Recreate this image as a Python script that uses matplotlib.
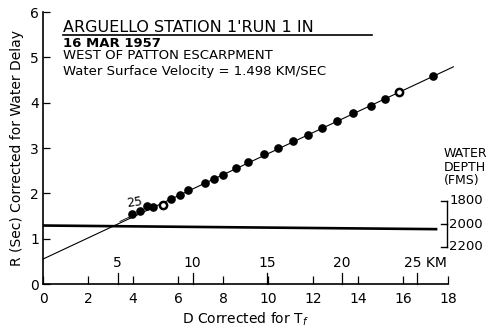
import matplotlib
matplotlib.use("Agg")
import matplotlib.pyplot as plt
import numpy as np

# Reduced travel-time data (D corrected for Tf vs. R corrected for water delay)
d_values = [3.94, 4.31, 4.61, 4.90, 5.32, 5.68, 6.09, 6.46, 7.20, 7.60, 7.99,
            8.56, 9.12, 9.84, 10.46, 11.10, 11.78, 12.41, 13.08, 13.76,
            14.56, 15.20, 15.82, 17.33]
r_values = [1.54, 1.62, 1.71, 1.69, 1.74, 1.88, 1.97, 2.07, 2.23, 2.32, 2.40,
            2.55, 2.70, 2.86, 3.00, 3.15, 3.29, 3.45, 3.59, 3.77,
            3.93, 4.08, 4.23, 4.58]
open_points = [4, 22]          # indices drawn as open circles

# Fitted line (intercept, slope) and its extent
fit_intercept = 0.55
fit_slope = 0.2325
fit_x = [0.0, 18.24]

# Water-depth level line
depth_line_x = [0.0, 17.47]
depth_line_y = [1.29, 1.21]

# Axis ticks
x_ticks = [0, 2, 4, 6, 8, 10, 12, 14, 16, 18]
y_ticks = [0, 1, 2, 3, 4, 5, 6]
km_ticks = [5, 10, 15, 20, 25]
km_per_unit = 1.505

# Water depth scale (fathoms)
depth_labels = ["1800", "2000", "2200"]
depth_levels = [1.84, 1.32, 0.82]

W, H = 491, 327
fig = plt.figure(figsize=(W / 100, H / 100), dpi=100)
ax = fig.add_axes([43 / W, 1 - 284 / H, 405 / W, 272 / H])
ax.set_xlim(0, 18)
ax.set_ylim(0, 6)

for s in ("top", "right"):
    ax.spines[s].set_visible(False)
for s in ("left", "bottom"):
    ax.spines[s].set_linewidth(1.2)

ax.set_xticks(x_ticks)
ax.set_yticks(y_ticks)
ax.tick_params(axis="x", direction="in", length=5.5, width=0.9, pad=6,
               labelsize=10)
ax.tick_params(axis="y", direction="in", length=5, width=0.9, pad=3,
               labelsize=10)

# fitted line
fx = np.array(fit_x)
ax.plot(fx, fit_intercept + fit_slope * fx, color="black", lw=0.8,
        clip_on=False, zorder=2)
# short parallel stroke near the "25" mark
sx = np.array([3.42, 3.94])
ax.plot(sx, fit_intercept + fit_slope * sx + 0.035, color="black", lw=0.6)
ax.text(4.05, 1.80, "25", fontsize=9, ha="center", va="center", rotation=8)

# data points
d = np.array(d_values)
r = np.array(r_values)
filled = [i for i in range(len(d)) if i not in open_points]
ax.plot(d[filled], r[filled], "o", ms=5.2, color="black", zorder=3)
ax.plot(d[open_points], r[open_points], "o", ms=5.2, mfc="white",
        mec="black", mew=1.8, zorder=3)

# water depth line
ax.plot(depth_line_x, depth_line_y, color="black", lw=1.9, zorder=2)

# kilometre scale along the bottom
for km in km_ticks:
    xp = km / km_per_unit
    ax.plot([xp, xp], [0, 0.25], color="black", lw=0.9, clip_on=False)
    if km == km_ticks[-1]:
        ax.text(xp - 0.55, 0.30, f"{km} KM", fontsize=10, ha="left",
                va="bottom")
    else:
        ax.text(xp, 0.30, f"{km}", fontsize=10, ha="center", va="bottom")

# water depth bracket
bx = 17.95
ax.plot([bx, bx], [depth_levels[-1], depth_levels[0]], color="black", lw=1.0,
        clip_on=False)
for lab, lv in zip(depth_labels, depth_levels):
    ax.plot([bx - 0.28, bx], [lv, lv], color="black", lw=1.0, clip_on=False)
    ax.text(bx + 0.1, lv, lab, fontsize=9.5, ha="left", va="center",
            clip_on=False)
ax.text(17.8, 2.58, "WATER\nDEPTH\n(FMS)", fontsize=9, ha="left",
        va="center", linespacing=1.05, clip_on=False)

# axis labels
ax.set_ylabel("R (Sec) Corrected for Water Delay", fontsize=10, labelpad=4)
ax.set_xlabel(r"D Corrected for T$_f$", fontsize=10, labelpad=3)

# header block
ax.text(0.89, 5.55, "ARGUELLO STATION 1'RUN 1 IN", fontsize=11.5,
        ha="left", va="baseline")
ax.plot([0.89, 14.62], [5.50, 5.50], color="black", lw=1.2)
ax.text(0.89, 5.23, "16 MAR 1957", fontsize=9.5, fontweight="bold",
        ha="left", va="baseline")
ax.text(0.89, 4.96, "WEST OF PATTON ESCARPMENT", fontsize=9.5,
        ha="left", va="baseline")
ax.text(0.89, 4.60, "Water Surface Velocity = 1.498 KM/SEC", fontsize=9.5,
        ha="left", va="baseline")

fig.savefig("out.png", dpi=100, facecolor="white")
